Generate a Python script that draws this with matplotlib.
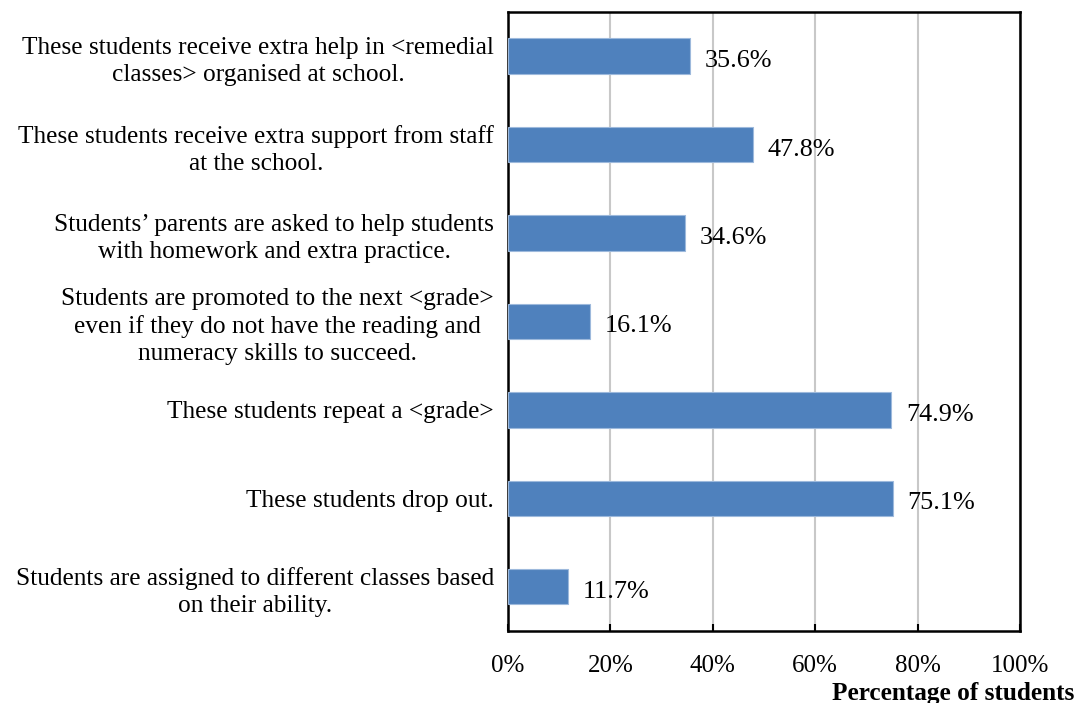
import matplotlib.pyplot as plt

plt.rcParams["font.family"] = ["Liberation Serif", "DejaVu Serif"]

categories = [
    "These students receive extra help in <remedial\nclasses> organised at school.",
    "These students receive extra support from staff\nat the school.",
    "Students\u2019 parents are asked to help students\nwith homework and extra practice.",
    "Students are promoted to the next <grade>\neven if they do not have the reading and\nnumeracy skills to succeed.",
    "These students repeat a <grade>",
    "These students drop out.",
    "Students are assigned to different classes based\non their ability.",
]
values = [35.6, 47.8, 34.6, 16.1, 74.9, 75.1, 11.7]
xticks = [0, 20, 40, 60, 80, 100]

fig = plt.figure(figsize=(10.78, 7.03), dpi=100)
ax = fig.add_axes([0.4712, 0.1024, 0.4750, 0.8806])

pos = list(range(len(categories)))
ax.barh(pos, values, height=0.4, color="#4F81BD", edgecolor="#9DB9DC", linewidth=0.8, zorder=3)
for y, v in zip(pos, values):
    ax.annotate(f"{v:.1f}%", (v, y), xytext=(10.5, -3.6), textcoords="offset points",
                va="center", ha="left", fontsize=18.8, zorder=4)

ax.set_ylim(len(categories) - 0.5, -0.5)
ax.set_xlim(0, 100)
ax.set_yticks(pos)
ax.set_yticklabels(categories, fontsize=18.3, multialignment="center", linespacing=1.3)
ax.tick_params(axis="y", length=0, pad=10)
ax.set_xticks(xticks)
ax.set_xticklabels([f"{t}%" for t in xticks], fontsize=18)
ax.tick_params(axis="x", direction="in", length=5, width=1.5, pad=17)
ax.grid(axis="x", color="#C8C8C8", linewidth=1.5, zorder=0)
for s in ax.spines.values():
    s.set_linewidth(1.8)
    s.set_color("black")

fig.text(0.997, 0.0142, "Percentage of students", ha="right", va="center",
         fontsize=18.2, fontweight="bold")

fig.savefig("out.png", dpi=100)
